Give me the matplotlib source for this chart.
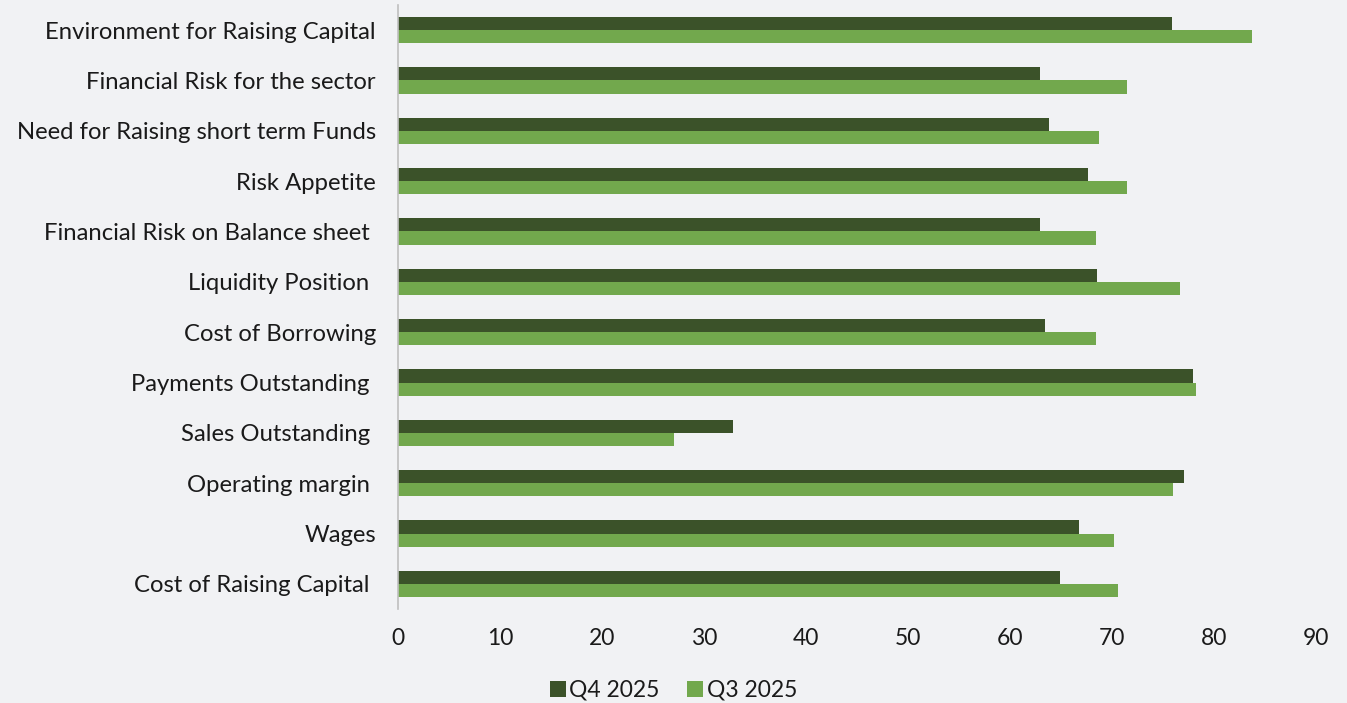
import matplotlib
matplotlib.use("Agg")
import matplotlib.pyplot as plt
import numpy as np

categories = [
    "Environment for Raising Capital",
    "Financial Risk for the sector",
    "Need for Raising short term Funds",
    "Risk Appetite",
    "Financial Risk on Balance sheet ",
    "Liquidity Position ",
    "Cost of Borrowing",
    "Payments Outstanding ",
    "Sales Outstanding ",
    "Operating margin ",
    "Wages",
    "Cost of Raising Capital ",
]
q4_2025 = [75.9, 62.9, 63.8, 67.6, 62.9, 68.5, 63.4, 77.9, 32.8, 77.1, 66.8, 64.9]
q3_2025 = [83.7, 71.5, 68.7, 71.5, 68.4, 76.7, 68.4, 78.2, 27.1, 76.0, 70.2, 70.6]
x_ticks = [0, 10, 20, 30, 40, 50, 60, 70, 80, 90]

plt.rcParams['font.family'] = ['Lato', 'DejaVu Sans']
bg = "#F1F2F4"
dark = "#3B5229"
light = "#72A84D"
txt = "#1a1a1a"

fig = plt.figure(figsize=(13.47, 7.03), dpi=100, facecolor=bg)
ax = fig.add_axes([0.2955, 0.1337, 0.977 - 0.2955, 0.9929 - 0.1337], facecolor=bg)

y = np.arange(len(categories))
h = 0.26
ax.barh(y - h / 2, q4_2025, height=h, color=dark, label="Q4 2025")
ax.barh(y + h / 2, q3_2025, height=h, color=light, label="Q3 2025")

ax.set_xlim(0, 90)
ax.set_ylim(len(categories) - 0.5, -0.5)
ax.set_yticks(y)
ax.set_yticklabels(categories, fontsize=17.2, color=txt)
ax.set_xticks(x_ticks)
ax.set_xticklabels([str(v) for v in x_ticks], fontsize=16.5, color=txt)
ax.tick_params(axis='y', length=0, pad=16)
ax.tick_params(axis='x', length=0, pad=14)
for s in ["top", "right", "bottom"]:
    ax.spines[s].set_visible(False)
ax.spines["left"].set_color("#BFBFBF")
ax.spines["left"].set_linewidth(1.2)

leg = fig.legend(loc="center", bbox_to_anchor=(0.5, 0.018), ncol=2, frameon=False,
                 fontsize=16.5, handlelength=0.7, handleheight=0.7, handletextpad=0.15,
                 columnspacing=1.2)
for t in leg.get_texts():
    t.set_color(txt)

fig.savefig("out.png", dpi=100, facecolor=bg)
